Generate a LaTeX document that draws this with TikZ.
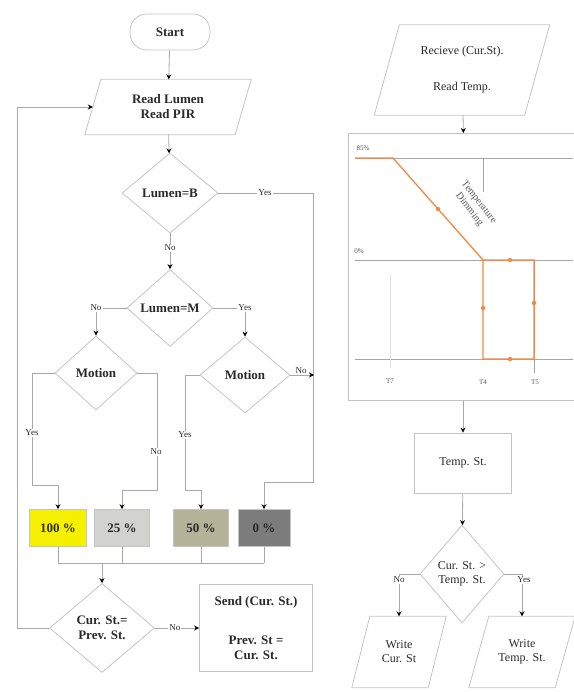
\documentclass[tikz,border=0pt]{standalone}
\usepackage{fontspec}
\setmainfont{Liberation Serif}
\usetikzlibrary{shapes.geometric,arrows.meta,calc}
\definecolor{shapegray}{HTML}{C4C4C4}
\definecolor{linegray}{HTML}{A8A8A8}
\definecolor{textc}{HTML}{2A2A2A}
\definecolor{orangec}{HTML}{EE8A45}
\definecolor{boxA}{HTML}{F4F000}
\definecolor{boxB}{HTML}{D2D2CE}
\definecolor{boxC}{HTML}{B4B298}
\definecolor{boxD}{HTML}{7C7C7C}
\newcommand{\mypara}[2]{\draw[shapegray, line width=0.8pt] ($(#1.north west)+(#2,0)$) -- ($(#1.north east)+(#2,0)$) -- ($(#1.south east)+(-#2,0)$) -- ($(#1.south west)+(-#2,0)$) -- cycle;}
\begin{document}
\begin{tikzpicture}[x=1pt,y=-1pt,
  txt/.style={inner sep=0pt, align=center, text=textc, font=\fontsize{13}{15}\selectfont\bfseries},
  rtxt/.style={inner sep=0pt, align=center, text=textc, font=\fontsize{12}{14}\selectfont},
  dia/.style={txt, diamond, draw=shapegray, line width=0.8pt},
  rdia/.style={rtxt, diamond, draw=shapegray, line width=0.8pt},
  pbox/.style={txt, rectangle, draw=shapegray, line width=0.6pt, minimum height=37},
  sbox/.style={txt, rectangle, draw=shapegray, line width=0.8pt},
  ln/.style={linegray, line width=0.8pt},
  arr/.style={linegray, line width=0.8pt, -{Stealth[length=5pt,width=5pt,color=black]}},
  lbl/.style={font=\fontsize{9}{10}\selectfont, fill=white, inner sep=1pt, text=textc},
  clbl/.style={font=\fontsize{7}{8}\selectfont, inner sep=0pt, text=textc!80},
  cline/.style={gray!70, line width=0.8pt}
]
\useasboundingbox (0,0) rectangle (573,692);

% ---------------- left flowchart ----------------
\node[txt, draw=shapegray, line width=0.8pt, rounded corners=17pt, minimum width=80, minimum height=36] (start) at (170,32) {Start};
\node[txt, minimum width=150, minimum height=55] (read) at (168,107) {Read Lumen\\Read PIR};
\mypara{read}{8}
\node[dia, minimum width=96, minimum height=80] (d1) at (170,193) {Lumen=B};
\node[dia, minimum width=86, minimum height=77] (d2) at (170,308) {Lumen=M};
\node[dia, minimum width=82, minimum height=74] (m1) at (96,373) {Motion};
\node[dia, minimum width=90, minimum height=76] (m2) at (245,375) {Motion};

\node[pbox, fill=boxA, minimum width=57] (p100) at (58,528) {100 \%};
\node[pbox, fill=boxB, minimum width=55] (p25) at (122,528) {25 \%};
\node[pbox, fill=boxC, minimum width=55] (p50) at (201,528) {50 \%};
\node[pbox, fill=boxD, minimum width=52] (p0) at (264,528) {0 \%};

\node[dia, minimum width=105, minimum height=89] (d3) at (102,628) {Cur. St.=\\Prev. St.};
\node[sbox, minimum width=113, minimum height=87] (send) at (256,628) {Send (Cur. St.)\\[24pt]Prev. St =\\Cur. St.};

\draw[arr] (start) -- (read);
\draw[arr] (read) -- (d1);
\draw[arr] (d1.south) -- node[lbl, pos=0.4] {No} (d2.north);
\draw[arr] (d1.east) -- (313,193) -- (313,482) -- (264,482) -- (p0.north);
\node[lbl] at (265,193) {Yes};
\draw[arr] (d2.west) -| (m1.north);
\node[lbl] at (96,308) {No};
\draw[arr] (d2.east) -| (m2.north);
\node[lbl] at (245,308) {Yes};
\draw[arr] (m1.west) -- (32,373) -- (32,485) -- (58,485) -- (p100.north);
\node[lbl] at (32,433) {Yes};
\draw[arr] (m1.east) -- (157,373) -- (157,490) -- (122,490) -- (p25.north);
\node[lbl] at (156,452) {No};
\draw[arr] (m2.west) -- (185,375) -- (185,490) -- (201,490) -- (p50.north);
\node[lbl] at (185,435) {Yes};
\draw[arr] (m2.east) -- (314,375);
\node[lbl] at (301,371) {No};

\draw[ln] (p100.south) -- (58,563);
\draw[ln] (p25.south) -- (122,563);
\draw[ln] (p50.south) -- (201,563);
\draw[ln] (p0.south) -- (264,563);
\draw[ln] (58,563) -- (264,563);
\draw[arr] (102,563) -- (d3.north);
\draw[arr] (d3.west) -- (17,628) -- (17,107) -- (read.west);
\draw[arr] (d3.east) -- node[lbl, pos=0.45] {No} (send.west);

% ---------------- right flowchart ----------------
\node[rtxt, minimum width=150, minimum height=90] (recv) at (462,70) {Recieve (Cur.St).\\[22pt]Read Temp.};
\mypara{recv}{12.5}
\node[draw=shapegray, line width=0.8pt, minimum width=230, minimum height=267, anchor=north west, inner sep=0pt] (chart) at (348,133) {};

% chart contents
\draw[cline] (355,158) -- (573,158);
\draw[cline] (355,260) -- (573,260);
\draw[cline] (355,359) -- (573,359);
\draw[cline] (483,158) -- (483,192);
\draw[cline] (534,260) -- (534,373);
\draw[gray!25, line width=0.6pt] (390,275) -- (390,368);
\node[clbl] at (363,148) {85\%};
\node[clbl] at (359,251) {0\%};
\node[clbl] at (390,381) {T7};
\node[clbl] at (483,382) {T4};
\node[clbl] at (535,382) {T5};
\draw[orangec, line width=1.3pt] (355,158) -- (393,158) -- (483,260) -- (534,260) -- (534,359) -- (483,359) -- (483,260);
\foreach \p in {(438,209),(510,260),(534,303),(510,359),(483,308)} \fill[orangec] \p circle (2.2pt);
\node[inner sep=0pt, text=textc!80, font=\fontsize{10}{12}\selectfont, rotate=-52, align=center] (tdim) at (474,206) {Temperature\\Dimming};

\node[sbox, font=\fontsize{12}{14}\selectfont, minimum width=97, minimum height=60] (temp) at (463,463) {Temp. St.};
\node[rdia, minimum width=84, minimum height=98] (d4) at (462,574) {Cur. St. >\\Temp. St.};
\node[rtxt, minimum width=76, minimum height=71] (w1) at (399,652) {Write\\Cur. St};
\mypara{w1}{9}
\node[rtxt, minimum width=86, minimum height=71] (w2) at (522,652) {Write\\Temp. St.};
\mypara{w2}{10}

\draw[arr] (recv) -- (chart.north);
\draw[arr] (chart.south -| temp.north) -- (temp.north);
\draw[arr] (temp) -- (d4);
\draw[arr] (d4.west) -| (w1.north);
\node[lbl] at (399,580) {No};
\draw[arr] (d4.east) -| (w2.north);
\node[lbl] at (524,580) {Yes};
\end{tikzpicture}
\end{document}
